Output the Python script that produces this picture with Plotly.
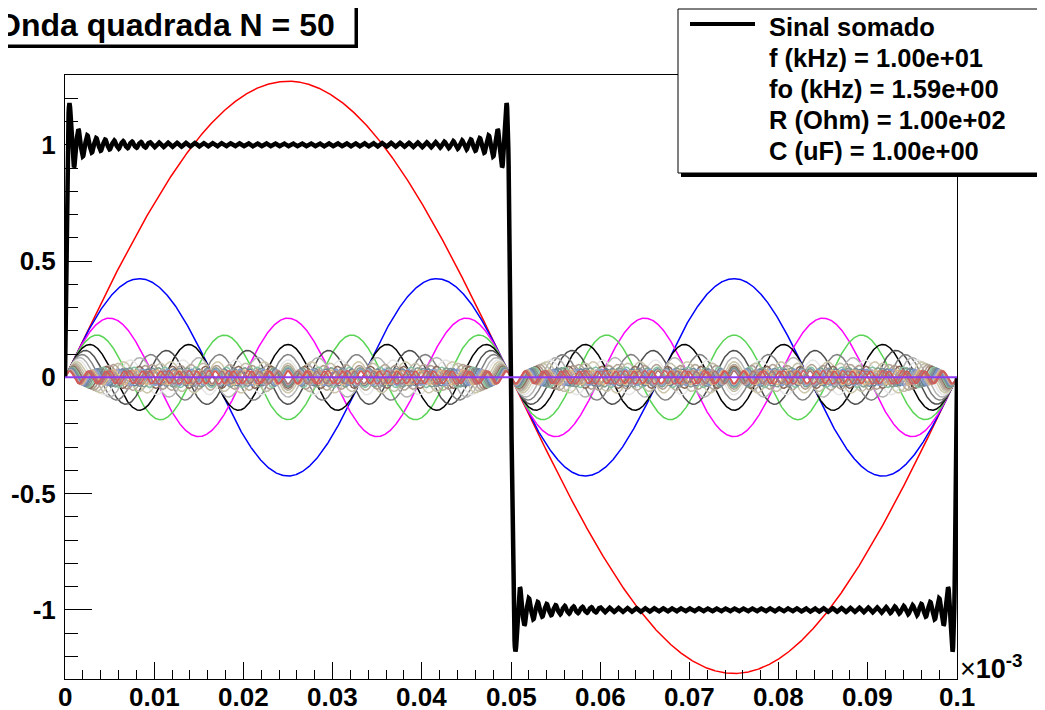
import numpy as np
import plotly.graph_objects as go

# ---- data ----
title_text = "Onda quadrada N = 50"
legend_lines = ["Sinal somado", "f (kHz) = 1.00e+01", "fo (kHz) = 1.59e+00",
                "R (Ohm) = 1.00e+02", "C (uF) = 1.00e+00"]
period = 0.1  # one period of the square wave on the x axis (x 10^-3)
harmonic_orders = [1, 3, 5, 7, 9, 11, 13, 15, 17, 19, 21, 23, 25, 27, 29, 31, 33, 35,
                   37, 39, 41, 43, 45, 47, 49, 51, 53, 55, 57, 59, 61, 63, 65, 67, 69,
                   71, 73, 75, 77, 79, 81, 83, 85, 87, 89, 91, 93, 95, 97, 99]
harmonic_amplitudes = [1.2732, 0.4244, 0.2546, 0.1819, 0.1415, 0.1157, 0.0979, 0.0849,
                       0.0749, 0.0670, 0.0606, 0.0554, 0.0509, 0.0472, 0.0439, 0.0411,
                       0.0386, 0.0364, 0.0344, 0.0326, 0.0311, 0.0296, 0.0283, 0.0271,
                       0.0260, 0.0250, 0.0240, 0.0231, 0.0223, 0.0216, 0.0209, 0.0202,
                       0.0196, 0.0190, 0.0185, 0.0179, 0.0174, 0.0170, 0.0165, 0.0161,
                       0.0157, 0.0153, 0.0150, 0.0146, 0.0143, 0.0140, 0.0137, 0.0134,
                       0.0131, 0.0129]
harmonic_colors = ["#ff0000", "#0000ff", "#ff00ff", "#59d454", "#000000", "#4d4d4d",
                   "#808080", "#b3b3b3", "#e6e6e6", "#ccc7ab", "#c2bfa8", "#b3a696",
                   "#ad998c", "#876657", "#85c2a3", "#829e8c", "#7a8f99", "#698296",
                   "#7d99d1", "#aba6bf", "#deba87", "#c7997d", "#cf5e61", "#a6787a",
                   "#d45954"]
x_tick_vals = [0, 0.01, 0.02, 0.03, 0.04, 0.05, 0.06, 0.07, 0.08, 0.09, 0.1]
x_tick_text = ["0", "0.01", "0.02", "0.03", "0.04", "0.05", "0.06", "0.07", "0.08", "0.09", "0.1"]
y_tick_vals = [-1, -0.5, 0, 0.5, 1]
y_tick_text = ["-1", "-0.5", "0", "0.5", "1"]

# ---- figure (page body has an 8px margin) ----
OFF = 8
W, H = 1045 - OFF, 710 - OFF
L, T = 65 - OFF, 75 - OFF
R, B = W - (957 - OFF), H - (679 - OFF)
pw, ph = W - L - R, H - T - B


def px(xs):  # screen x -> paper
    return (xs - OFF - L) / pw


def py(ys):  # screen y -> paper
    return (H - B - (ys - OFF)) / ph


x = np.linspace(0, period, 3001)
fig = go.Figure()
total = np.zeros_like(x)
for i, (n, a) in enumerate(zip(harmonic_orders, harmonic_amplitudes)):
    y = a * np.sin(2 * np.pi * n * x / period)
    total += y
    if i < len(harmonic_colors):
        fig.add_trace(go.Scatter(x=x, y=y, mode="lines",
                                 line=dict(color=harmonic_colors[i], width=1.5),
                                 showlegend=False, hoverinfo="skip"))

fig.add_trace(go.Scatter(x=x, y=total, mode="lines", line=dict(color="black", width=4.5),
                         showlegend=False, hoverinfo="skip"))

font_family = "Liberation Sans, Arial, Helvetica, sans-serif"

fig.update_layout(
    width=W, height=H, margin=dict(l=L, r=R, t=T, b=B, pad=0, autoexpand=False),
    paper_bgcolor="white", plot_bgcolor="white", showlegend=False,
    xaxis=dict(range=[0, period], showgrid=False, zeroline=False, automargin=False,
               showline=True, linecolor="black", linewidth=1, mirror=True,
               ticks="inside", ticklen=17, tickcolor="black", tickwidth=1,
               tickvals=x_tick_vals, showticklabels=False,
               minor=dict(dtick=0.002, tick0=0, ticks="inside", ticklen=9,
                          tickcolor="black", tickwidth=1, showgrid=False)),
    yaxis=dict(range=[-1.297, 1.3], showgrid=False, zeroline=False, automargin=False,
               showline=True, linecolor="black", linewidth=1, mirror=True,
               ticks="inside", ticklen=27, tickcolor="black", tickwidth=1,
               tickvals=y_tick_vals, ticktext=y_tick_text, ticklabelstandoff=3,
               tickfont=dict(family=font_family, size=26, color="black", weight="bold"),
               minor=dict(dtick=0.1, tick0=0, ticks="inside", ticklen=13,
                          tickcolor="black", tickwidth=1, showgrid=False)),
)

shapes = []
# zero reference line (purple)
shapes.append(dict(type="line", xref="x", yref="y", x0=0, x1=period, y0=0, y1=0,
                   line=dict(color="#8c3cf5", width=2), layer="above"))
# title box with shadow
shapes.append(dict(type="rect", xref="paper", yref="paper",
                   x0=px(-12), x1=px(358), y0=py(48), y1=py(7),
                   fillcolor="black", line=dict(width=0)))
shapes.append(dict(type="rect", xref="paper", yref="paper",
                   x0=px(-15), x1=px(355), y0=py(45), y1=py(4),
                   fillcolor="white", line=dict(color="black", width=1)))
# legend box with shadow
shapes.append(dict(type="rect", xref="paper", yref="paper",
                   x0=px(681), x1=px(1046), y0=py(177), y1=py(12),
                   fillcolor="black", line=dict(width=0)))
shapes.append(dict(type="rect", xref="paper", yref="paper",
                   x0=px(678), x1=px(1043), y0=py(173), y1=py(9),
                   fillcolor="white", line=dict(color="black", width=1)))
shapes.append(dict(type="line", xref="paper", yref="paper",
                   x0=px(690), x1=px(755), y0=py(24), y1=py(24),
                   line=dict(color="black", width=4)))
fig.update_layout(shapes=shapes)

ann = []
ann.append(dict(text="<b>" + title_text + "</b>", xref="paper", yref="paper",
                x=px(-6), y=py(25), xanchor="left", yanchor="middle", showarrow=False,
                font=dict(family=font_family, size=32, color="black")))
for k, (t, yc) in enumerate(zip(legend_lines, [27, 58, 89, 120, 151])):
    ann.append(dict(text="<b>" + t + "</b>", xref="paper", yref="paper",
                    x=px(767), y=py(yc), xanchor="left", yanchor="middle", showarrow=False,
                    font=dict(family=font_family, size=25.5, color="black")))
ann.append(dict(text="×<b>10<sup>-3</sup></b>", xref="paper", yref="paper",
                x=px(958), y=py(667), xanchor="left", yanchor="middle", showarrow=False,
                font=dict(family=font_family, size=27, color="black")))
# x tick labels
for v, t in zip(x_tick_vals, x_tick_text):
    ann.append(dict(text="<b>" + t + "</b>", xref="x", yref="paper",
                    x=v, y=py(697), xanchor="center", yanchor="middle", showarrow=False,
                    font=dict(family=font_family, size=26, color="black")))
fig.update_layout(annotations=ann)

fig.write_html("out.html")
